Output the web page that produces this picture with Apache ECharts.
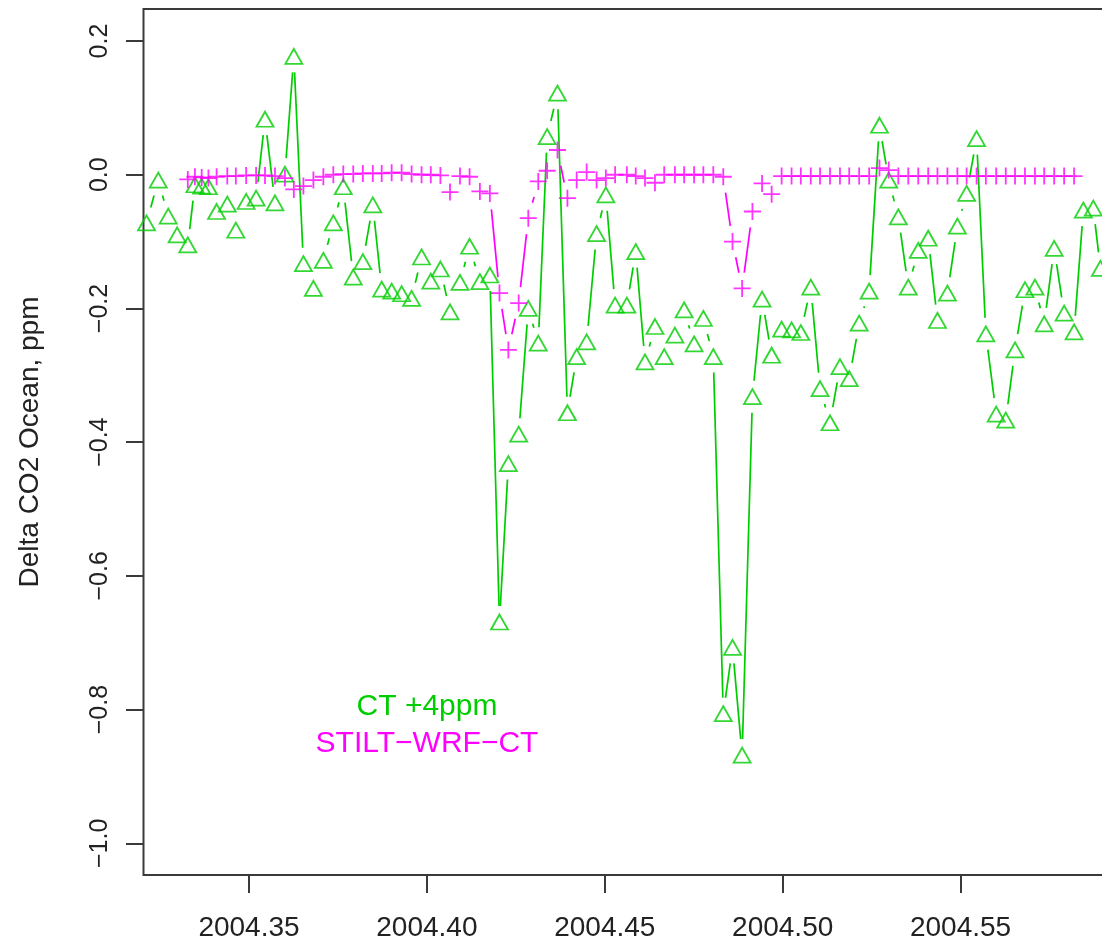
<!DOCTYPE html>
<html>
<head>
<meta charset="utf-8">
<script src="https://cdn.jsdelivr.net/npm/echarts@6/dist/echarts.min.js"></script>
<style>
  html, body { margin: 0; padding: 0; background: #ffffff; }
  #chart { width: 1102px; height: 945px; }
</style>
</head>
<body>
<div id="chart"></div>
<script>
// Observation times (decimal year), one per day
const dayTimes = [
  2004.3212, 2004.3245, 2004.3273, 2004.3298, 2004.3328, 2004.3348, 2004.3367, 2004.3386, 2004.3409, 2004.3439,
  2004.3463, 2004.3492, 2004.3520, 2004.3545, 2004.3573, 2004.3601, 2004.3626, 2004.3653, 2004.3681, 2004.3709,
  2004.3737, 2004.3765, 2004.3793, 2004.3820, 2004.3848, 2004.3873, 2004.3901, 2004.3929, 2004.3957, 2004.3985,
  2004.4011, 2004.4038, 2004.4065, 2004.4093, 2004.4120, 2004.4149, 2004.4177, 2004.4204, 2004.4229, 2004.4258,
  2004.4285, 2004.4313, 2004.4338, 2004.4367, 2004.4395, 2004.4421, 2004.4449, 2004.4477, 2004.4503, 2004.4529,
  2004.4562, 2004.4587, 2004.4613, 2004.4641, 2004.4667, 2004.4697, 2004.4723, 2004.4751, 2004.4777, 2004.4805,
  2004.4833, 2004.4859, 2004.4886, 2004.4915, 2004.4942, 2004.4969, 2004.4997, 2004.5025, 2004.5051, 2004.5079,
  2004.5105, 2004.5133, 2004.5161, 2004.5187, 2004.5215, 2004.5243, 2004.5272, 2004.5298, 2004.5325, 2004.5353,
  2004.5381, 2004.5409, 2004.5435, 2004.5463, 2004.5491, 2004.5517, 2004.5545, 2004.5571, 2004.5600, 2004.5627,
  2004.5653, 2004.5681, 2004.5709, 2004.5735, 2004.5763, 2004.5791, 2004.5819, 2004.5845, 2004.5873, 2004.5893
];

// CarbonTracker ocean contribution (+4 ppm run), ppm
const ctValues = [
  -0.072, -0.008, -0.062, -0.090, -0.105, -0.015, -0.017, -0.018, -0.055, -0.044,
  -0.083, -0.040, -0.035,  0.083, -0.042,  0.001,  0.177, -0.133, -0.170, -0.128,
  -0.072, -0.018, -0.153, -0.130, -0.045, -0.171, -0.174, -0.178, -0.185, -0.123,
  -0.159, -0.141, -0.205, -0.161, -0.107, -0.160, -0.150, -0.669, -0.432, -0.388,
  -0.200, -0.252,  0.057,  0.122, -0.356, -0.272, -0.250, -0.088, -0.030, -0.195,
  -0.195, -0.115, -0.280, -0.227, -0.272, -0.240, -0.202, -0.253, -0.215, -0.272,
  -0.806, -0.707, -0.868, -0.332, -0.186, -0.270, -0.231, -0.232, -0.236, -0.168,
  -0.320, -0.371, -0.287, -0.305, -0.222, -0.174,  0.074, -0.008, -0.063, -0.168,
  -0.113, -0.095, -0.218, -0.177, -0.077, -0.028,  0.054, -0.238, -0.358, -0.367,
  -0.262, -0.172, -0.168, -0.223, -0.110, -0.207, -0.235, -0.053, -0.050, -0.140
];

// STILT-WRF driven by CT ocean fluxes, ppm (null = no run that day)
const stiltValues = [
   null,   null,   null,   null, -0.007, -0.003, -0.004, -0.005, -0.003, -0.002,
  -0.002, -0.001, -0.001, -0.001, -0.002, -0.005, -0.022, -0.017, -0.008, -0.003,
   0.000,  0.001,  0.001,  0.002,  0.002,  0.002,  0.003,  0.003,  0.001,  0.000,
   0.000, -0.001, -0.026, -0.002, -0.003, -0.025, -0.028, -0.177, -0.262, -0.192,
  -0.065, -0.010,  0.006,  0.037, -0.035, -0.008,  0.004, -0.008, -0.005,  0.000,
   0.000, -0.002, -0.005, -0.012,  0.000,  0.000,  0.000,  0.000,  0.000,  0.000,
  -0.003, -0.100, -0.170, -0.055, -0.013, -0.029, -0.002, -0.002, -0.002, -0.002,
  -0.002, -0.002, -0.002, -0.002, -0.002, -0.002,  0.010,  0.007, -0.002, -0.002,
  -0.002, -0.002, -0.002, -0.002, -0.002, -0.002, -0.002, -0.002, -0.002, -0.002,
  -0.002, -0.002, -0.002, -0.002, -0.002, -0.002, -0.002,   null,   null,   null
];

const xTickValues = [2004.35, 2004.40, 2004.45, 2004.50, 2004.55];
const yTickValues = [-1.0, -0.8, -0.6, -0.4, -0.2, 0.0, 0.2];
const seriesNames = ['CT +4ppm', 'STILT\u2212WRF\u2212CT'];
const yAxisTitle = 'Delta CO2 Ocean, ppm';

const GREEN = '#00cd00';
const MAGENTA = '#ff00ff';
const AXIS_COLOR = '#3a3a3a';
const TEXT_COLOR = '#222222';
const FONT = 'Liberation Sans';
const GAP = 16; // gap (px) left around each point by the connecting segments

function pairs(xs, ys) {
  const out = [];
  for (let i = 0; i < xs.length; i++) {
    if (ys[i] === null) continue;
    out.push([xs[i], ys[i]]);
  }
  return out;
}

function segments(points) {
  const out = [];
  for (let i = 0; i < points.length - 1; i++) {
    out.push([points[i][0], points[i][1], points[i + 1][0], points[i + 1][1]]);
  }
  return out;
}

// Connecting segments that stop short of each point marker
function gappedLines(points, color) {
  return {
    type: 'custom',
    coordinateSystem: 'cartesian2d',
    silent: true,
    clip: true,
    data: segments(points),
    encode: { x: [0, 2], y: [1, 3] },
    z: 2,
    renderItem: function (params, api) {
      const a = api.coord([api.value(0), api.value(1)]);
      const b = api.coord([api.value(2), api.value(3)]);
      const dx = b[0] - a[0], dy = b[1] - a[1];
      const d = Math.sqrt(dx * dx + dy * dy);
      if (d <= 2 * GAP) return { type: 'group', children: [] };
      const f = GAP / d;
      return {
        type: 'line',
        shape: { x1: a[0] + f * dx, y1: a[1] + f * dy, x2: b[0] - f * dx, y2: b[1] - f * dy },
        style: { stroke: color, lineWidth: 1.7 }
      };
    }
  };
}

const ctPoints = pairs(dayTimes, ctValues);
const stiltPoints = pairs(dayTimes, stiltValues);

const fmtMinus = s => s.replace('-', '\u2212');

const chart = echarts.init(document.getElementById('chart'), null, { renderer: 'canvas' });

chart.setOption({
  animation: false,
  backgroundColor: '#ffffff',
  grid: {
    left: 143.5, top: 9, width: 1000, height: 866,
    outerBoundsMode: 'none',
    containLabel: false,
    show: true, borderColor: AXIS_COLOR, borderWidth: 2, backgroundColor: 'transparent'
  },
  xAxis: {
    type: 'value',
    min: 2004.32035, max: 2004.60141,
    axisLine: { show: false, onZero: false },
    splitLine: { show: false },
    axisTick: {
      show: true, inside: false, length: 18, customValues: xTickValues,
      lineStyle: { color: AXIS_COLOR, width: 2 }
    },
    axisLabel: {
      show: true, margin: 39, customValues: xTickValues,
      formatter: v => v.toFixed(2),
      color: TEXT_COLOR, fontFamily: FONT, fontSize: 28
    }
  },
  yAxis: {
    type: 'value',
    min: -1.0474, max: 0.2479,
    axisLine: { show: false, onZero: false },
    splitLine: { show: false },
    axisTick: {
      show: true, inside: false, length: 17.5, customValues: yTickValues,
      lineStyle: { color: AXIS_COLOR, width: 2 }
    },
    axisLabel: {
      show: true, margin: 31, rotate: 90, customValues: yTickValues,
      formatter: v => fmtMinus(v.toFixed(1)),
      color: TEXT_COLOR, fontFamily: FONT, fontSize: 25
    },
    name: yAxisTitle,
    nameLocation: 'middle',
    nameRotate: 90,
    nameGap: 99,
    nameTextStyle: { color: TEXT_COLOR, fontFamily: FONT, fontSize: 28 }
  },
  series: [
    gappedLines(ctPoints, GREEN),
    {
      name: seriesNames[0],
      type: 'scatter',
      data: ctPoints,
      symbol: 'triangle',
      symbolSize: [17, 15],
      clip: true,
      z: 3,
      itemStyle: { color: 'rgba(0,0,0,0)', borderColor: GREEN, borderWidth: 1.8 }
    },
    gappedLines(stiltPoints, MAGENTA),
    {
      name: seriesNames[1],
      type: 'scatter',
      data: stiltPoints,
      symbol: 'path://M8,0L8,16M0,8L16,8',
      symbolSize: [17, 17],
      clip: true,
      z: 4,
      itemStyle: { color: 'rgba(0,0,0,0)', borderColor: MAGENTA, borderWidth: 1.8 }
    }
  ],
  graphic: [
    {
      type: 'text', x: 427, y: 707, z: 10,
      style: { text: seriesNames[0], fill: GREEN, font: '30px "Liberation Sans"', align: 'center', verticalAlign: 'middle' }
    },
    {
      type: 'text', x: 427, y: 744, z: 10,
      style: { text: seriesNames[1], fill: MAGENTA, font: '30px "Liberation Sans"', align: 'center', verticalAlign: 'middle' }
    }
  ]
});
</script>
</body>
</html>
